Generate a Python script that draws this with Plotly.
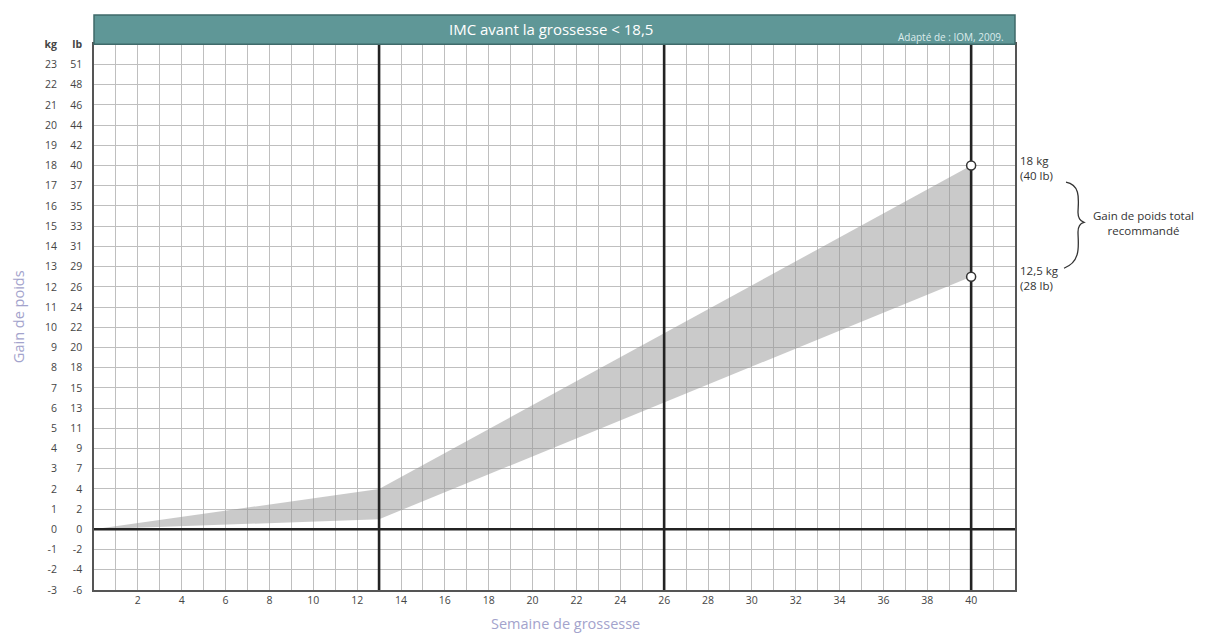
import plotly.graph_objects as go

# page body has an 8px margin: build the figure in reference pixels shifted by 8
OFF = 8
W, H = 1206 - OFF, 638 - OFF

# ---- data ----
band_weeks = [0, 13, 40]
band_lower_kg = [0, 0.5, 12.5]
band_upper_kg = [0, 2, 18]
target_weeks = [40, 40]
target_kg = [18, 12.5]
trimester_weeks = [13, 26, 40]
kg_ticks = list(range(-3, 25))
kg_labels = [str(v) for v in range(-3, 24)] + ["<b>kg</b>"]
lb_labels = ["-6", "-4", "-2", "0", "2", "4", "7", "9", "11", "13", "15", "18", "20",
             "22", "24", "26", "29", "31", "33", "35", "37", "40", "42", "44", "46", "48", "51",
             "<b>lb</b>"]
week_ticks = list(range(1, 42))
week_labels = [str(w) if w % 2 == 0 and w <= 40 else "" for w in week_ticks]
title_text = "IMC avant la grossesse < 18,5"
source_text = "Adapté de : IOM, 2009."


def px(x):
    return (x - OFF) / W


def py(y):
    return 1 - (y - OFF) / H


X0, X1, Y0, Y1 = 94, 1015, 38, 596
FONT = "Open Sans"
TICKC = "#454545"
TICKSIZE = 10.5

fig = go.Figure()

# band
fig.add_trace(go.Scatter(
    x=band_weeks + band_weeks[::-1],
    y=band_upper_kg + band_lower_kg[::-1],
    fill="toself", fillcolor="rgba(150,150,150,0.5)",
    line=dict(width=0), mode="lines", hoverinfo="skip", showlegend=False))

# heavy reference lines
for w in trimester_weeks:
    fig.add_trace(go.Scatter(x=[w, w], y=[kg_ticks[0], kg_ticks[-1]], mode="lines",
                             line=dict(color="#232323", width=2.6), showlegend=False,
                             hoverinfo="skip"))
fig.add_trace(go.Scatter(x=[0, 42], y=[0, 0], mode="lines",
                         line=dict(color="#232323", width=2.6), showlegend=False,
                         hoverinfo="skip"))

# target markers
fig.add_trace(go.Scatter(x=target_weeks, y=target_kg, mode="markers",
                         marker=dict(size=9, color="white",
                                     line=dict(color="#333333", width=1.5)),
                         showlegend=False))

# invisible trace for second y axis
fig.add_trace(go.Scatter(x=[0], y=[0], yaxis="y2", mode="markers",
                         marker=dict(opacity=0), showlegend=False, hoverinfo="skip"))

grid = "#bfbfbf"
fig.update_layout(
    width=W, height=H,
    margin=dict(l=0, r=0, t=0, b=0),
    paper_bgcolor="white", plot_bgcolor="white",
    font=dict(family=FONT, color=TICKC),
    xaxis=dict(domain=[px(X0), px(X1)], range=[0, 42],
               tickvals=week_ticks, ticktext=week_labels,
               showgrid=True, gridcolor=grid, gridwidth=1,
               zeroline=False, showline=True, linecolor="#555555", linewidth=1.5,
               mirror=True, ticks="", tickfont=dict(size=TICKSIZE, color=TICKC, family=FONT),
               fixedrange=True),
    yaxis=dict(domain=[py(Y1), py(Y0)], range=[-3, 24],
               tickvals=kg_ticks, ticktext=lb_labels,
               showgrid=True, gridcolor=grid, gridwidth=1,
               zeroline=False, showline=True, linecolor="#555555", linewidth=1.5,
               mirror=True, ticks="", ticklabelstandoff=8,
               tickfont=dict(size=TICKSIZE, color=TICKC, family=FONT)),
    yaxis2=dict(overlaying="y", anchor="free", position=px(57), side="left",
                range=[-3, 24], tickvals=kg_ticks, ticktext=kg_labels,
                showgrid=False, zeroline=False, showline=False, ticks="",
                tickfont=dict(size=TICKSIZE, color=TICKC, family=FONT)),
)


def P(x, y):
    return f"{px(x):.5f},{py(y):.5f}"


shapes = []
# header bar
shapes.append(dict(type="rect", xref="paper", yref="paper",
                   x0=px(X0), x1=px(X1), y0=py(Y0), y1=py(8),
                   fillcolor="#5f9797", line=dict(color="#3f6a6a", width=1.5),
                   layer="above"))
# curly brace
path = ("M " + P(1066, 179) +
        " C " + P(1082, 182) + " " + P(1078, 200) + " " + P(1078, 210) +
        " C " + P(1078, 216) + " " + P(1080, 218) + " " + P(1084, 220) +
        " C " + P(1080, 221) + " " + P(1078, 224) + " " + P(1078, 230) +
        " C " + P(1078, 242) + " " + P(1082, 260) + " " + P(1064, 267))
shapes.append(dict(type="path", xref="paper", yref="paper", path=path,
                   line=dict(color="#333333", width=1.3)))
fig.update_layout(shapes=shapes)

LBL = dict(size=11.5, color="#333333", family=FONT)
ann = []
ann.append(dict(text=title_text, x=px(551), y=py(22), xref="paper", yref="paper",
                showarrow=False, font=dict(size=15, color="white", family=FONT),
                xanchor="center", yanchor="middle"))
ann.append(dict(text=source_text, x=px(1006), y=py(30), xref="paper", yref="paper",
                showarrow=False, font=dict(size=10, color="#dcecec", family=FONT),
                xanchor="right", yanchor="middle"))
ann.append(dict(text="18 kg<br>(40 lb)", x=px(1018), y=py(164), xref="paper", yref="paper",
                showarrow=False, align="left", xanchor="left", yanchor="middle", font=LBL))
ann.append(dict(text="12,5 kg<br>(28 lb)", x=px(1018), y=py(277), xref="paper", yref="paper",
                showarrow=False, align="left", xanchor="left", yanchor="middle", font=LBL))
ann.append(dict(text="Gain de poids total<br>recommandé", x=px(1143), y=py(221),
                xref="paper", yref="paper", showarrow=False, align="center",
                xanchor="center", yanchor="middle", font=LBL))
ann.append(dict(text="Gain de poids", x=px(18), y=py(317), xref="paper", yref="paper",
                showarrow=False, textangle=-90, xanchor="center", yanchor="middle",
                font=dict(size=14.5, color="#a3a3cc", family=FONT)))
ann.append(dict(text="Semaine de grossesse", x=px(565), y=py(630), xref="paper", yref="paper",
                showarrow=False, xanchor="center", yanchor="middle",
                font=dict(size=14.5, color="#a3a3cc", family=FONT)))
fig.update_layout(annotations=ann)

fig.write_html("out.html")
